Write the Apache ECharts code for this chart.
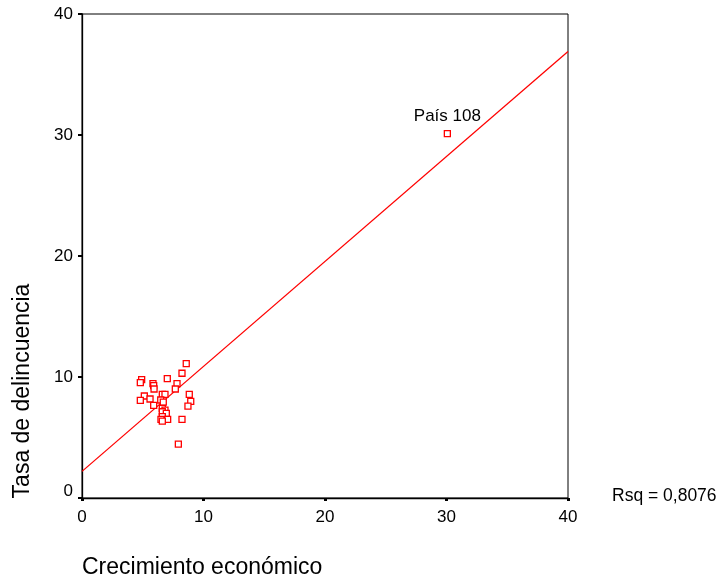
<!DOCTYPE html>
<html>
<head>
<meta charset="utf-8">
<script src="https://cdn.jsdelivr.net/npm/echarts@6/dist/echarts.min.js"></script>
<style>html,body{margin:0;padding:0;background:#fff}#c{width:720px;height:582px}</style>
</head>
<body>
<div id="c"></div>
<script>
// Data
const crecimiento = [8.58, 8.23, 4.91, 4.80, 5.84, 5.90, 5.93, 7.02, 7.82, 7.68, 5.13, 4.80, 5.60, 6.61, 6.83, 8.83, 8.95, 8.72, 6.48, 6.69, 5.90, 6.61, 6.83, 6.61, 6.94, 6.61, 6.50, 7.05, 6.61, 8.23, 7.93, 30.07];
const delincuencia = [11.10, 10.31, 9.78, 9.53, 9.45, 9.28, 9.01, 9.86, 9.45, 9.01, 8.43, 8.07, 8.18, 8.57, 8.57, 8.57, 7.99, 7.60, 8.10, 7.93, 7.66, 7.41, 7.27, 7.13, 7.00, 6.72, 6.50, 6.50, 6.36, 6.50, 4.46, 30.11];
const etiquetas = ['', '', '', '', '', '', '', '', '', '', '', '', '', '', '', '', '', '', '', '', '', '', '', '', '', '', '', '', '', '', '', 'País 108'];
const lineaX = [0, 40];
const lineaY = [2.2, 36.9];
const ticks = [0, 10, 20, 30, 40];
const rsqText = 'Rsq = 0,8076';

const pts = crecimiento.map((x, i) => ({ value: [x, delincuencia[i]], name: etiquetas[i] }));
const font = 'Liberation Sans, Arial, sans-serif';
const chart = echarts.init(document.getElementById('c'), null, { renderer: 'canvas' });
chart.setOption({
  animation: false,
  backgroundColor: '#fff',
  grid: { left: 82, right: 152, top: 14, bottom: 84, show: true, borderColor: '#000', borderWidth: 1, backgroundColor: 'transparent' },
  xAxis: {
    type: 'value', min: ticks[0], max: ticks[ticks.length - 1], interval: 10,
    axisLine: { show: true, onZero: false, lineStyle: { color: '#000', width: 1.3 } },
    axisTick: { show: true, inside: false, length: 3, lineStyle: { color: '#000', width: 3 } },
    splitLine: { show: false },
    axisLabel: { color: '#000', fontSize: 17, fontFamily: font, margin: 11 }
  },
  yAxis: {
    type: 'value', min: ticks[0], max: ticks[ticks.length - 1], interval: 10,
    axisLine: { show: true, onZero: false, lineStyle: { color: '#000', width: 1.3 } },
    axisTick: { show: true, inside: false, length: 4, lineStyle: { color: '#000', width: 2 } },
    splitLine: { show: false },
    axisLabel: {
      color: '#000', fontSize: 17, fontFamily: font, margin: 9,
      formatter: v => v === 0 ? '{z|0}' : String(v),
      rich: { z: { fontSize: 17, fontFamily: font, color: '#000', padding: [0, 0, 14, 0] } }
    }
  },
  series: [
    {
      type: 'line', data: lineaX.map((x, i) => [x, lineaY[i]]), showSymbol: false, symbol: 'none',
      lineStyle: { color: '#ff0000', width: 1.3 }, z: 2, silent: true
    },
    {
      type: 'scatter', data: pts, symbol: 'rect', symbolSize: 6,
      itemStyle: { color: '#fff', borderColor: '#ff0000', borderWidth: 1.3, opacity: 1 },
      label: { show: true, position: 'top', distance: 5, formatter: p => p.name, color: '#000', fontSize: 17, fontFamily: font },
      z: 3
    }
  ],
  graphic: [
    { type: 'text', left: 612, top: 487, style: { text: rsqText, fontSize: 17.5, fontFamily: font, fill: '#000' } },
    { type: 'text', left: 82, top: 556, style: { text: 'Crecimiento económico', fontSize: 23, fontFamily: font, fill: '#000' } },
    { type: 'text', x: 11, y: 391, rotation: Math.PI / 2, style: { text: 'Tasa de delincuencia', fontSize: 23, fontFamily: font, fill: '#000', align: 'center', verticalAlign: 'top' } }
  ]
});
</script>
</body>
</html>
